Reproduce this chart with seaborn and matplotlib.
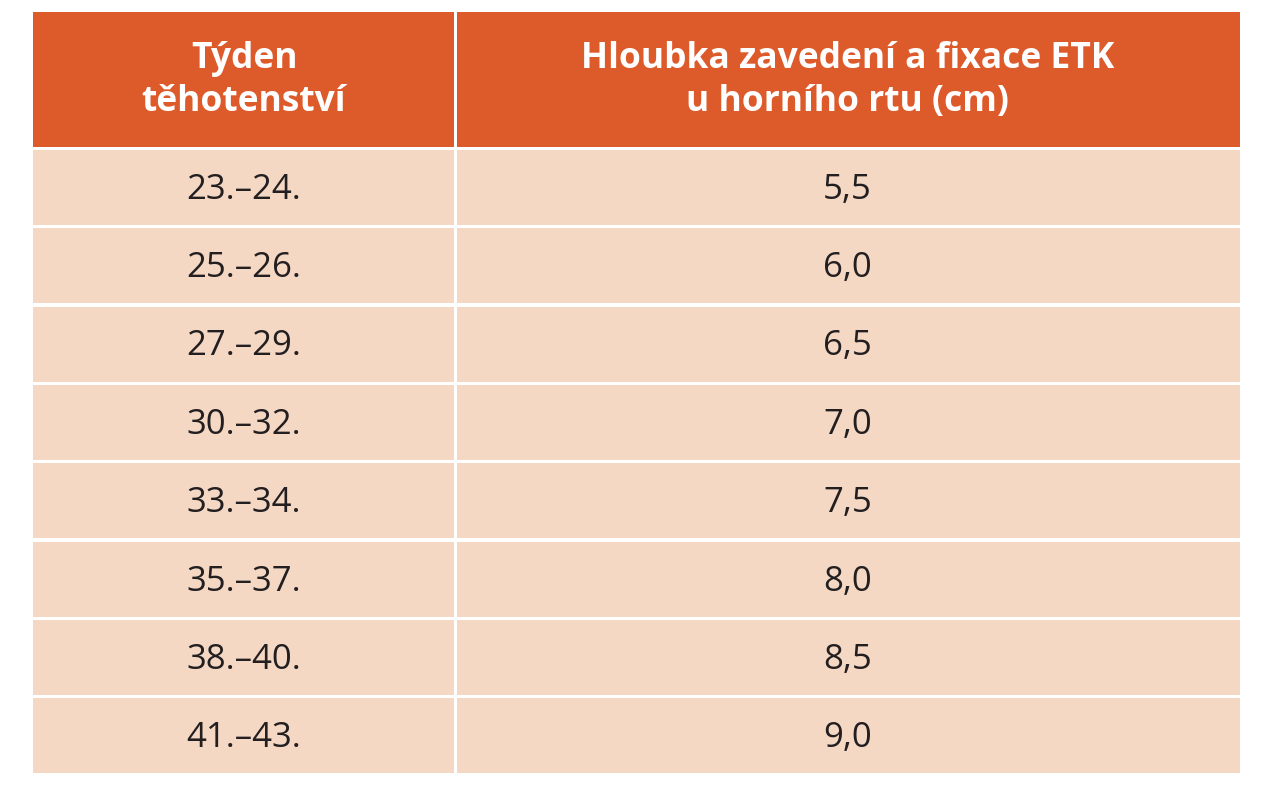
import matplotlib
matplotlib.use("Agg")
import matplotlib.pyplot as plt
from matplotlib.patches import Rectangle
import seaborn as sns

sns.set_theme(style="white")
plt.rcParams['font.family'] = ['Open Sans', 'DejaVu Sans']

headers = ["Týden\ntěhotenství", "Hloubka zavedení a fixace ETK\nu horního rtu (cm)"]
weeks = ["23.–24.", "25.–26.", "27.–29.", "30.–32.", "33.–34.", "35.–37.", "38.–40.", "41.–43."]
depths = ["5,5", "6,0", "6,5", "7,0", "7,5", "8,0", "8,5", "9,0"]

HEAD = "#DD5A2B"
BODY = "#F5D8C4"

fig = plt.figure(figsize=(12.62, 8), dpi=100)
ax = fig.add_axes([33/1262, 1-775/800, (1240-33)/1262, (775-12)/800])
head_h = 1.74
n = len(weeks)
ax.set_xlim(0, 1207)
ax.set_ylim(head_h + n, 0)
ax.axis("off")

col_edges = [0, 422, 1207]
gap = 3
for j in range(2):
    x0, x1 = col_edges[j], col_edges[j+1]
    ax.add_patch(Rectangle((x0 + (gap/2 if j else 0), 0), x1 - x0 - gap/2, head_h - 0.02, color=HEAD, lw=0))
    ax.text((x0+x1)/2, head_h/2, headers[j], ha="center", va="center", color="white",
            fontsize=25.5, fontweight="bold", linespacing=1.25)
    for i in range(n):
        y = head_h + i
        ax.add_patch(Rectangle((x0 + (gap/2 if j else 0), y + 0.02), x1 - x0 - gap/2, 0.96, color=BODY, lw=0))
        txt = weeks[i] if j == 0 else depths[i]
        ax.text((x0+x1)/2, y + 0.53, txt, ha="center", va="center", color="#231f20", fontsize=25)

fig.savefig("out.png", dpi=100, facecolor="white")
